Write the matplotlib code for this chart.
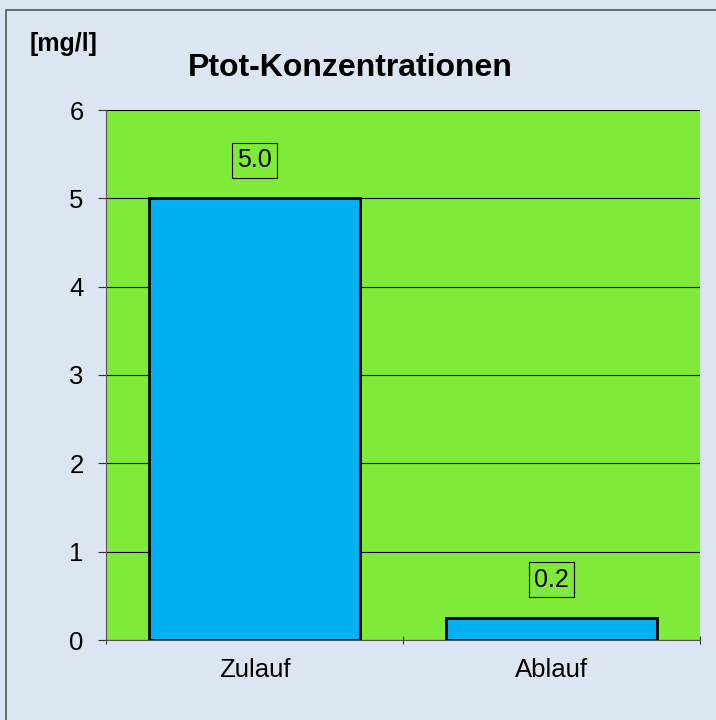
import matplotlib
matplotlib.use("Agg")
import matplotlib.pyplot as plt
from matplotlib.lines import Line2D

plt.rcParams["font.family"] = ["Liberation Sans", "DejaVu Sans"]

categories = ["Zulauf", "Ablauf"]
values = [5.0, 0.25]
value_labels = ["5.0", "0.2"]
yticks = [0, 1, 2, 3, 4, 5, 6]

BG = "#DCE6F2"
PLOT_BG = "#7FEB38"
BAR = "#00B0F0"

fig = plt.figure(figsize=(7.16, 7.2), dpi=100, facecolor=BG)
W, H = 716, 720

# outer frame (only top and left edges visible)
fig.lines.append(Line2D([5.5 / W, 5.5 / W, 1], [0, 1 - 9.5 / H, 1 - 9.5 / H],
                        transform=fig.transFigure, color="#555555", linewidth=1.2))

ax = fig.add_axes([106 / W, 1 - 640 / H, 594 / W, 530 / H])
ax.set_facecolor(PLOT_BG)

x = range(len(categories))
bars = ax.bar(x, values, width=0.71, color=BAR, edgecolor="black",
              linewidth=2, zorder=3)

for bar, lab in zip(bars, value_labels):
    ax.text(bar.get_x() + bar.get_width() / 2, bar.get_height() + 0.43, lab,
            ha="center", va="center", fontsize=18, zorder=4,
            bbox=dict(boxstyle="square,pad=0.22", facecolor="none",
                      edgecolor="black", linewidth=0.8))

ax.set_xlim(-0.5, 1.5)
ax.set_ylim(0, 6)
ax.set_yticks(yticks)
ax.set_yticklabels([str(t) for t in yticks], fontsize=18.5)
ax.yaxis.grid(True, color="black", linewidth=0.8, zorder=1)
ax.set_axisbelow(True)

ax.set_xticks([-0.5, 0.5, 1.5])
ax.set_xticklabels([])
ax.set_xticks(list(x), minor=True)
ax.set_xticklabels(categories, minor=True, fontsize=18.5)
ax.tick_params(axis="x", which="minor", length=0, pad=13)
ax.tick_params(axis="x", which="major", length=6, direction="inout", color="#333333")
ax.tick_params(axis="y", length=6, direction="out", color="#333333", pad=10)

for side in ["top", "right"]:
    ax.spines[side].set_visible(False)
ax.spines["left"].set_color("#555555")
ax.spines["bottom"].set_color("#555555")

fig.text(350 / W, 1 - 68 / H, "Ptot-Konzentrationen", ha="center", va="center",
         fontsize=23, fontweight="bold")
fig.text(30 / W, 1 - 44 / H, "[mg/l]", ha="left", va="center",
         fontsize=18, fontweight="bold")

fig.savefig("out.png", dpi=100, facecolor=BG)
